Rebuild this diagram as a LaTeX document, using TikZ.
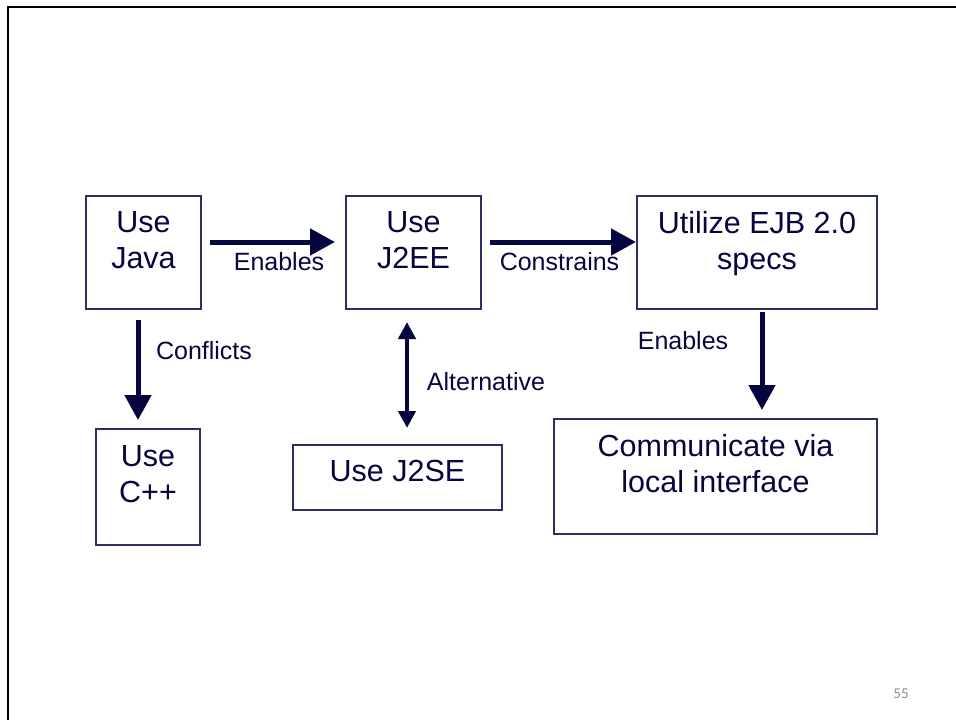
\documentclass[tikz,border=0pt]{standalone}
\usepackage{fontspec}
\setmainfont{Liberation Sans}
\newfontfamily\numfont{Carlito}
\usetikzlibrary{arrows.meta}
\definecolor{navy}{HTML}{05053F}
\definecolor{edgenavy}{HTML}{2A2F66}
\definecolor{pagegrey}{HTML}{8C8C8C}
% box text: centred lines hanging from the top of a box of given size
\newcommand{\btext}[4]{\parbox[c][#2pt][t]{#1pt}{\centering\vspace*{#3pt}#4}}
\tikzset{
  box/.style={draw=edgenavy, line width=1.4pt, inner sep=0pt, outer sep=0pt,
    font=\fontsize{30.5}{36}\selectfont, text=navy},
  lbl/.style={font=\fontsize{25}{29}\selectfont, text=navy, inner sep=0pt, anchor=base},
  arr/.style={draw=navy, line width=5pt, -{Triangle[length=25pt,width=26pt]}},
  darr/.style={draw=navy, line width=4.5pt, {Triangle[length=17pt,width=17pt]}-{Triangle[length=17pt,width=17pt]}},
}
\begin{document}
\begin{tikzpicture}[x=1pt,y=-1pt]
\useasboundingbox (0,0) rectangle (956,720);
% slide frame
\draw[line width=2.6pt, black] (8,720) -- (8,7) -- (956,7);

% boxes
\node[box] (java) at (143.5,252.5) {\btext{115}{113}{15.5}{Use\\Java}};
\node[box] (j2ee) at (413.5,252.5) {\btext{135}{113}{15.5}{Use\\J2EE}};
\node[box] (ejb)  at (757,252.5)   {\btext{240}{113}{15.5}{Utilize EJB 2.0\\specs}};
\node[box] (cpp)  at (148,487)     {\btext{104}{116}{17}{Use\\C++}};
\node[box] (j2se) at (397.5,477.5) {\btext{209}{65}{15}{Use J2SE}};
\node[box] (comm) at (715.5,476.5) {\btext{323}{115}{15.5}{Communicate via\\local interface}};

% connectors
\draw[arr, shorten <=9pt, shorten >=11pt]
  ([yshift=10.5pt]java.east) -- ([yshift=10.5pt]j2ee.west);
\draw[arr, shorten <=9pt, shorten >=1pt]
  ([yshift=10.5pt]j2ee.east) -- ([yshift=10.5pt]ejb.west);
\draw[arr, shorten <=11pt, shorten >=9pt]
  ([xshift=-5.5pt]java.south) -- ([xshift=-5.5pt]java.south |- cpp.north);
\draw[darr, shorten <=13pt, shorten >=17pt]
  ([xshift=-6.5pt]j2ee.south) -- ([xshift=-6.5pt]j2ee.south |- j2se.north);
\draw[arr, shorten <=3pt, shorten >=9pt]
  ([xshift=5pt]ejb.south) -- ([xshift=5pt]ejb.south |- comm.north);

% connector labels
\node[lbl] (l1) at (279,270) {Enables};
\node[lbl] (l2) at (559.5,270) {Constrains};
\node[lbl] (l3) at (204,359) {Conflicts};
\node[lbl] (l4) at (486,390) {Alternative};
\node[lbl] (l5) at (683,349) {Enables};

% page number
\node[font=\numfont\fontsize{15}{17}\selectfont, text=pagegrey, inner sep=0pt] (pg) at (901,694) {55};
\end{tikzpicture}
\end{document}
